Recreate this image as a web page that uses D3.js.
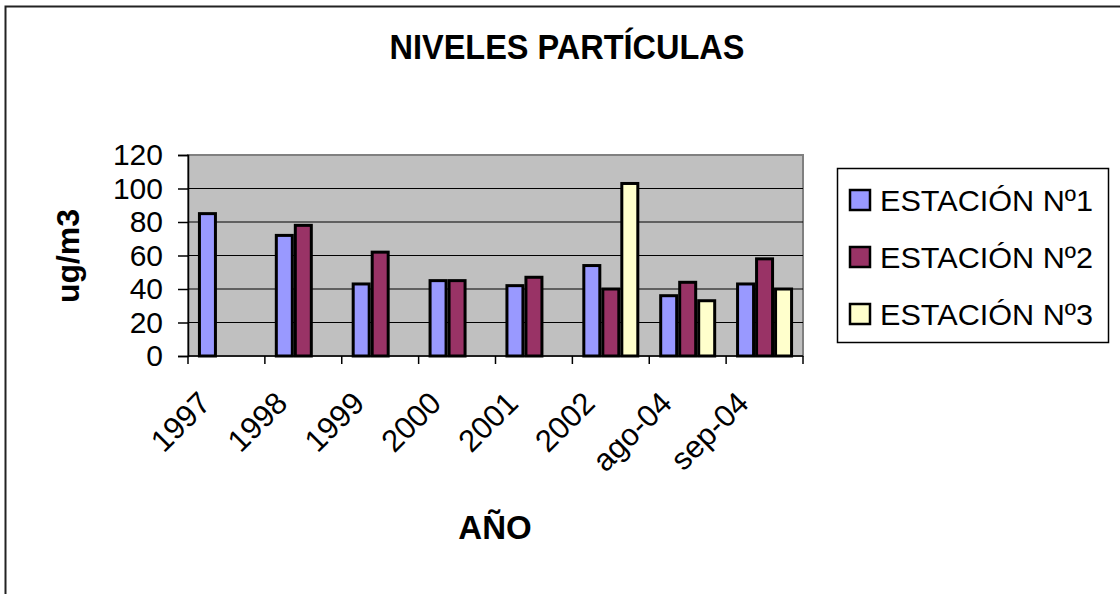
<!DOCTYPE html>
<html>
<head>
<meta charset="utf-8">
<script src="https://cdn.jsdelivr.net/npm/d3@7"></script>
<style>
  body { margin: 0; background: #fff; }
  svg { display: block; font-family: "Liberation Sans", Arial, sans-serif; }
</style>
</head>
<body>
<svg width="1120" height="594"></svg>
<script>
// data
const categories = ["1997", "1998", "1999", "2000", "2001", "2002", "ago-04", "sep-04"];
const seriesNames = ["ESTACIÓN Nº1", "ESTACIÓN Nº2", "ESTACIÓN Nº3"];
const estacion1 = [85, 72, 43, 45, 42, 54, 36, 43];
const estacion2 = [null, 78, 62, 45, 47, 40, 44, 58];
const estacion3 = [null, null, null, null, null, 103, 33, 40];
const yTicks = [0, 20, 40, 60, 80, 100, 120];
const colors = ["#9999FF", "#993366", "#FFFFCC"];

const seriesValues = [estacion1, estacion2, estacion3];

var svg = d3.select("svg");

var plotLeft = 188, plotRight = 803, plotTop = 155, plotBottom = 356;

// outer chart frame (runs off the picture on right and bottom)
svg.append("rect")
    .attr("x", 5.5).attr("y", 6.5)
    .attr("width", 1300).attr("height", 800)
    .attr("fill", "none")
    .attr("stroke", "#222")
    .attr("stroke-width", 2);

svg.append("text")
    .attr("x", 567).attr("y", 59)
    .attr("text-anchor", "middle")
    .attr("textLength", 355)
    .attr("lengthAdjust", "spacingAndGlyphs")
    .style("font-size", "35px")
    .style("font-weight", "bold")
    .text("NIVELES PARTÍCULAS");

var x = d3.scaleBand()
    .domain(categories)
    .range([plotLeft, plotRight]);

var inner = d3.scaleBand()
    .domain(seriesNames)
    .range([0, 57]);

var y = d3.scaleLinear()
    .domain([0, 120])
    .range([plotBottom, plotTop]);

// plot area
svg.append("rect")
    .attr("x", plotLeft).attr("y", plotTop)
    .attr("width", plotRight - plotLeft).attr("height", plotBottom - plotTop)
    .attr("fill", "#C0C0C0")
    .attr("stroke", "#808080")
    .attr("stroke-width", 2);

svg.append("g")
    .selectAll("line")
    .data(yTicks.filter(d => d > 0 && d < 120)).enter()
    .append("line")
    .attr("x1", plotLeft).attr("x2", plotRight)
    .attr("y1", d => y(d)).attr("y2", d => y(d))
    .attr("stroke", "#000")
    .attr("stroke-width", 1);

// y axis
var yAxis = d3.axisLeft(y).tickValues(yTicks).tickSize(10).tickPadding(15);
var gy = svg.append("g")
    .attr("transform", "translate(" + plotLeft + ",0)")
    .call(yAxis);
gy.select(".domain").attr("stroke", "#000").attr("stroke-width", 1.5);
gy.selectAll(".tick line").attr("stroke", "#000").attr("stroke-width", 1.5);
gy.selectAll("text")
    .style("font-size", "30px")
    .style("font-family", "'Liberation Sans', Arial, sans-serif")
    .attr("fill", "#000");

// bars
var groups = svg.append("g")
    .selectAll("g")
    .data(seriesNames).enter()
    .append("g")
    .attr("fill", (d, i) => colors[i]);

groups.selectAll("rect")
    .data((s, i) => categories.map((c, j) => ({cat: c, value: seriesValues[i][j], series: s})))
    .enter()
    .filter(d => d.value !== null)
    .append("rect")
    .attr("x", d => x(d.cat) + (x.bandwidth() - 57) / 2 + inner(d.series) + 1.5)
    .attr("width", inner.bandwidth() - 3)
    .attr("y", d => y(d.value))
    .attr("height", d => y(0) - y(d.value))
    .attr("stroke", "#000")
    .attr("stroke-width", 3);

// x axis line and ticks at category edges
svg.append("line")
    .attr("x1", plotLeft).attr("x2", plotRight)
    .attr("y1", plotBottom).attr("y2", plotBottom)
    .attr("stroke", "#000").attr("stroke-width", 1.5);

svg.append("g")
    .selectAll("line")
    .data(categories.concat(["end"])).enter()
    .append("line")
    .attr("x1", (d, i) => plotLeft + i * x.step())
    .attr("x2", (d, i) => plotLeft + i * x.step())
    .attr("y1", plotBottom).attr("y2", plotBottom + 8)
    .attr("stroke", "#000").attr("stroke-width", 1.5);

svg.append("g")
    .selectAll("text")
    .data(categories).enter()
    .append("text")
    .attr("text-anchor", "end")
    .attr("transform", d => "translate(" + (x(d) + x.bandwidth() / 2 - 14) + "," + 405 + ") rotate(-45)")
    .style("font-size", "31px")
    .text(d => d);

// axis titles
svg.append("text")
    .attr("x", 495).attr("y", 539)
    .attr("text-anchor", "middle")
    .style("font-size", "33px")
    .style("font-weight", "bold")
    .text("AÑO");

svg.append("text")
    .attr("transform", "translate(79,256) rotate(-90)")
    .attr("text-anchor", "middle")
    .style("font-size", "32px")
    .style("font-weight", "bold")
    .text("ug/m3");

// legend
var legend = svg.append("g");
legend.append("rect")
    .attr("x", 837.5).attr("y", 168.5)
    .attr("width", 271).attr("height", 174)
    .attr("fill", "#fff")
    .attr("stroke", "#000")
    .attr("stroke-width", 1.5);

var rowY = [200, 257, 314];
var items = legend.selectAll("g.item")
    .data(seriesNames).enter()
    .append("g")
    .attr("class", "item")
    .attr("transform", (d, i) => "translate(849," + rowY[i] + ")");

items.append("rect")
    .attr("x", 1).attr("y", -10)
    .attr("width", 20).attr("height", 20)
    .attr("fill", (d, i) => colors[i])
    .attr("stroke", "#000")
    .attr("stroke-width", 2.5);

items.append("text")
    .attr("x", 31).attr("y", 11)
    .attr("textLength", 213)
    .attr("lengthAdjust", "spacingAndGlyphs")
    .style("font-size", "30px")
    .text(d => d);
</script>
</body>
</html>
